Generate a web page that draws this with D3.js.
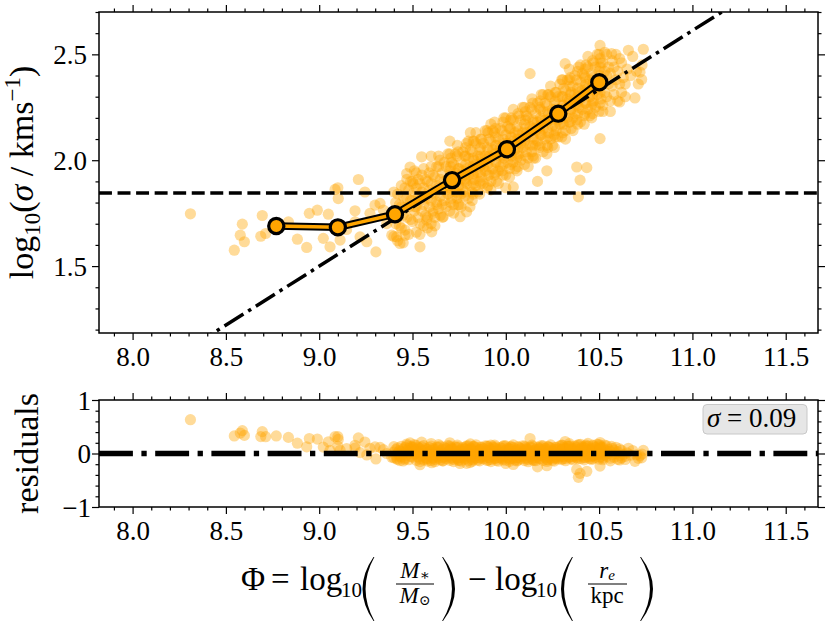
<!DOCTYPE html>
<html><head><meta charset="utf-8">
<script src="https://cdn.jsdelivr.net/npm/d3@7"></script>
<style>
body{margin:0;background:#fff}
svg{display:block}
text{font-family:"Liberation Serif","DejaVu Serif",serif;fill:#000}
</style>
</head><body>
<svg id="chart" width="830" height="623" font-family="Liberation Serif, DejaVu Serif, serif"></svg>
<script>
// ---- data: [Phi, log10 sigma] per galaxy ----
const galaxies = [
[8.31,1.747],[8.545,1.575],[8.577,1.646],[8.588,1.698],[8.599,1.615],[8.687,1.641],[8.695,1.739],[8.713,1.654],
[8.77,1.70],[8.835,1.709],[8.883,1.627],[8.933,1.588],[8.947,1.749],[8.99,1.764],[9.022,1.631],[9.049,1.745],
[9.058,1.591],[9.085,1.862],[9.10,1.87],[9.102,1.819],[9.10,1.69],[9.112,1.623],[9.147,1.673],[9.192,1.761],
[9.192,1.709],[9.21,1.909],[9.219,1.638],[9.245,1.85],[9.255,1.615],[9.272,1.749],[9.299,1.788],[9.304,1.567],
[9.326,1.796],[9.344,1.764],[9.362,1.701],[9.389,1.646],[9.415,1.638],[9.433,1.607],[9.46,1.646],[9.469,1.937],
[9.487,1.968],[9.504,1.89],[9.513,1.78],[9.54,1.591],[9.549,2.016],[9.576,1.717],[9.603,1.662],[9.63,1.803],
[9.647,2.0],[9.665,1.733],[9.719,1.874],[9.755,1.733],[9.61,1.749],[9.826,1.937],[9.808,1.78],[9.79,1.756],
[10.0,1.87],[10.04,1.874],[10.17,1.90],[10.22,1.95],[10.38,1.968],[10.434,1.965],[10.398,1.906],[10.389,1.827],
[10.505,2.102],[10.13,2.409],[10.318,2.456],[10.505,2.542],[10.567,2.503],[10.657,2.519],[10.737,2.524],[10.719,2.416],
[10.728,2.381],[10.692,2.294],[10.61,2.275],[9.60,2.02],[9.70,2.09],[9.81,2.13],[9.92,2.17],
[9.40,1.64],[9.41,1.70],[9.40,1.75],[9.41,1.80],[9.40,1.85],
[9.42,1.62],[9.43,1.69],[9.42,1.74],[9.43,1.79],[9.42,1.84],
[9.44,1.68],[9.45,1.74],[9.44,1.78],[9.45,1.83],[9.44,1.88],[9.45,1.61],
[9.46,1.67],[9.47,1.73],[9.46,1.78],[9.47,1.82],[9.46,1.87],[9.47,1.91],
[9.48,1.65],[9.49,1.72],[9.48,1.78],[9.49,1.81],[9.48,1.86],[9.49,1.90],
[9.50,1.71],[9.51,1.76],[9.50,1.81],[9.51,1.85],[9.50,1.90],[9.51,1.95],
[9.52,1.66],[9.53,1.73],[9.52,1.78],[9.53,1.83],[9.52,1.87],[9.53,1.91],[9.52,1.94],
[9.54,1.70],[9.55,1.76],[9.54,1.81],[9.55,1.85],[9.54,1.89],[9.55,1.93],[9.54,1.65],
[9.56,1.69],[9.57,1.74],[9.56,1.79],[9.57,1.83],[9.56,1.87],[9.57,1.91],[9.56,1.96],
[9.58,1.73],[9.59,1.78],[9.58,1.82],[9.59,1.86],[9.58,1.90],[9.59,1.94],[9.58,1.68],
[9.60,1.70],[9.61,1.76],[9.60,1.81],[9.61,1.85],[9.60,1.89],[9.61,1.93],[9.60,1.97],
[9.62,1.73],[9.63,1.79],[9.62,1.84],[9.63,1.88],[9.62,1.92],[9.63,1.97],[9.62,1.69],
[9.64,1.77],[9.65,1.83],[9.64,1.87],[9.65,1.91],[9.64,1.97],[9.65,1.74],[9.64,2.02],
[9.66,1.73],[9.67,1.81],[9.66,1.86],[9.67,1.90],[9.66,1.94],[9.67,1.99],[9.66,1.79],
[9.68,1.78],[9.69,1.84],[9.68,1.88],[9.69,1.91],[9.68,1.97],[9.69,2.03],[9.68,1.86],
[9.70,1.76],[9.71,1.82],[9.70,1.87],[9.71,1.91],[9.70,1.95],[9.71,1.99],[9.70,2.03],
[9.72,1.79],[9.73,1.85],[9.72,1.90],[9.73,1.94],[9.72,1.98],[9.73,2.03],[9.72,1.75],
[9.74,1.82],[9.75,1.88],[9.74,1.92],[9.75,1.96],[9.74,2.02],[9.75,1.79],[9.74,2.07],
[9.76,1.78],[9.77,1.86],[9.76,1.91],[9.77,1.95],[9.76,1.99],[9.77,2.04],[9.76,1.84],
[9.78,1.83],[9.79,1.89],[9.78,1.93],[9.79,1.96],[9.78,2.02],[9.79,2.08],[9.78,1.91],
[9.80,1.82],[9.81,1.88],[9.80,1.93],[9.81,1.97],[9.80,2.01],[9.81,2.05],[9.80,2.09],
[9.82,1.85],[9.83,1.91],[9.82,1.96],[9.83,2.00],[9.82,2.04],[9.83,2.09],[9.82,1.81],
[9.84,1.88],[9.85,1.94],[9.84,1.98],[9.85,2.02],[9.84,2.08],[9.85,1.85],[9.84,2.13],
[9.86,1.84],[9.87,1.92],[9.86,1.97],[9.87,2.01],[9.86,2.05],[9.87,2.10],[9.86,1.90],
[9.88,1.89],[9.89,1.95],[9.88,1.99],[9.89,2.02],[9.88,2.08],[9.89,2.14],[9.88,1.97],
[9.90,1.87],[9.91,1.93],[9.90,1.98],[9.91,2.02],[9.90,2.06],[9.91,2.10],[9.90,2.14],
[9.92,1.90],[9.93,1.96],[9.92,2.01],[9.93,2.05],[9.92,2.09],[9.93,2.14],[9.92,1.86],
[9.94,1.93],[9.95,1.99],[9.94,2.03],[9.95,2.07],[9.94,2.13],[9.95,1.90],[9.94,2.18],
[9.96,1.89],[9.97,1.97],[9.96,2.02],[9.97,2.06],[9.96,2.10],[9.97,2.15],[9.96,1.95],
[9.98,1.95],[9.99,2.01],[9.98,2.05],[9.99,2.08],[9.98,2.14],[9.99,2.20],[9.98,2.03],
[10.00,1.93],[10.01,1.99],[10.00,2.04],[10.01,2.08],[10.00,2.12],[10.01,2.16],[10.00,2.20],
[10.02,1.96],[10.03,2.02],[10.02,2.07],[10.03,2.11],[10.02,2.15],[10.03,2.20],[10.02,1.92],
[10.04,1.99],[10.05,2.05],[10.04,2.09],[10.05,2.13],[10.04,2.19],[10.05,1.96],[10.04,2.24],
[10.06,1.95],[10.07,2.03],[10.06,2.08],[10.07,2.12],[10.06,2.16],[10.07,2.21],[10.06,2.01],
[10.08,2.00],[10.09,2.06],[10.08,2.10],[10.09,2.13],[10.08,2.19],[10.09,2.25],[10.08,2.08],
[10.10,1.98],[10.11,2.04],[10.10,2.09],[10.11,2.13],[10.10,2.17],[10.11,2.21],[10.10,2.25],
[10.12,2.01],[10.13,2.07],[10.12,2.12],[10.13,2.16],[10.12,2.20],[10.13,2.25],[10.12,1.97],
[10.14,2.04],[10.15,2.10],[10.14,2.14],[10.15,2.18],[10.14,2.24],[10.15,2.01],[10.14,2.29],
[10.16,2.01],[10.17,2.09],[10.16,2.14],[10.17,2.18],[10.16,2.22],[10.17,2.27],[10.16,2.07],
[10.18,2.06],[10.19,2.12],[10.18,2.16],[10.19,2.19],[10.18,2.25],[10.19,2.31],[10.18,2.14],
[10.20,2.04],[10.21,2.10],[10.20,2.15],[10.21,2.19],[10.20,2.23],[10.21,2.27],[10.20,2.31],
[10.22,2.07],[10.23,2.13],[10.22,2.18],[10.23,2.22],[10.22,2.26],[10.23,2.31],[10.22,2.03],
[10.24,2.10],[10.25,2.16],[10.24,2.20],[10.25,2.24],[10.24,2.30],[10.25,2.07],[10.24,2.35],
[10.26,2.06],[10.27,2.14],[10.26,2.19],[10.27,2.23],[10.26,2.27],[10.27,2.32],[10.26,2.12],
[10.28,2.11],[10.29,2.17],[10.28,2.21],[10.29,2.24],[10.28,2.30],[10.29,2.36],[10.28,2.19],
[10.30,2.11],[10.31,2.17],[10.30,2.22],[10.31,2.26],[10.30,2.30],[10.31,2.34],[10.30,2.38],
[10.32,2.14],[10.33,2.20],[10.32,2.25],[10.33,2.29],[10.32,2.33],[10.33,2.38],[10.32,2.10],
[10.34,2.18],[10.35,2.24],[10.34,2.28],[10.35,2.32],[10.34,2.38],[10.35,2.15],[10.34,2.43],
[10.36,2.14],[10.37,2.22],[10.36,2.27],[10.37,2.31],[10.36,2.35],[10.37,2.40],[10.36,2.20],
[10.38,2.19],[10.39,2.25],[10.38,2.29],[10.39,2.32],[10.38,2.38],[10.39,2.44],[10.38,2.27],
[10.40,2.18],[10.41,2.24],[10.40,2.29],[10.41,2.33],[10.40,2.37],[10.41,2.41],[10.40,2.45],
[10.42,2.21],[10.43,2.27],[10.42,2.32],[10.43,2.36],[10.42,2.40],[10.43,2.45],[10.42,2.17],
[10.44,2.24],[10.45,2.30],[10.44,2.34],[10.45,2.38],[10.44,2.44],[10.45,2.21],[10.44,2.49],
[10.46,2.20],[10.47,2.28],[10.46,2.33],[10.47,2.37],[10.46,2.41],[10.47,2.46],[10.46,2.26],
[10.48,2.25],[10.49,2.31],[10.48,2.35],[10.49,2.38],[10.48,2.44],[10.49,2.50],[10.48,2.33],
[10.50,2.23],[10.51,2.29],[10.50,2.34],[10.51,2.38],[10.50,2.42],[10.51,2.46],[10.50,2.50],
[10.52,2.26],[10.53,2.32],[10.52,2.38],[10.53,2.42],[10.52,2.46],[10.53,2.51],[10.52,2.23],
[10.54,2.30],[10.55,2.36],[10.54,2.40],[10.55,2.44],[10.54,2.50],
[10.56,2.28],[10.57,2.35],[10.56,2.41],[10.57,2.47],[10.56,2.23],
[10.58,2.31],[10.59,2.38],[10.58,2.44],[10.59,2.50],
[10.60,2.28],[10.61,2.36],[10.60,2.42],[10.61,2.48],
[10.62,2.32],[10.63,2.39],[10.62,2.46],
[10.64,2.36],[10.65,2.43],[10.64,2.30],
[10.67,2.40],[10.68,2.49],[10.70,2.42],[10.71,2.36],[10.73,2.45],
[9.705,1.80],[9.705,1.85],[9.705,1.89],[9.705,1.93],[9.705,1.97],[9.705,2.01],
[9.745,1.79],[9.745,1.84],[9.745,1.88],[9.745,1.92],[9.745,1.96],[9.745,2.04],
[9.785,1.85],[9.785,1.90],[9.785,1.94],[9.785,1.98],[9.785,2.02],[9.785,2.06],
[9.825,1.84],[9.825,1.89],[9.825,1.93],[9.825,1.97],[9.825,2.01],[9.825,2.09],
[9.865,1.89],[9.865,1.94],[9.865,1.98],[9.865,2.02],[9.865,2.06],[9.865,2.10],
[9.905,1.88],[9.905,1.93],[9.905,1.97],[9.905,2.01],[9.905,2.05],[9.905,2.13],
[9.945,1.94],[9.945,1.99],[9.945,2.03],[9.945,2.07],[9.945,2.11],[9.945,2.15],
[9.985,1.93],[9.985,1.98],[9.985,2.02],[9.985,2.06],[9.985,2.10],[9.985,2.18],
[10.025,1.98],[10.025,2.03],[10.025,2.07],[10.025,2.11],[10.025,2.15],[10.025,2.19],
[10.065,1.97],[10.065,2.02],[10.065,2.06],[10.065,2.10],[10.065,2.14],[10.065,2.22],
[10.105,2.02],[10.105,2.07],[10.105,2.11],[10.105,2.15],[10.105,2.19],[10.105,2.23],
[10.145,2.02],[10.145,2.07],[10.145,2.11],[10.145,2.15],[10.145,2.19],[10.145,2.27],
[10.185,2.07],[10.185,2.12],[10.185,2.16],[10.185,2.20],[10.185,2.24],[10.185,2.28],
[10.225,2.06],[10.225,2.11],[10.225,2.15],[10.225,2.19],[10.225,2.23],[10.225,2.31],
[10.265,2.11],[10.265,2.16],[10.265,2.20],[10.265,2.24],[10.265,2.28],[10.265,2.32],
[10.305,2.13],[10.305,2.18],[10.305,2.22],[10.305,2.26],[10.305,2.30],[10.305,2.38],
[10.345,2.18],[10.345,2.23],[10.345,2.27],[10.345,2.31],[10.345,2.35],[10.345,2.39],
[10.385,2.17],[10.385,2.22],[10.385,2.26],[10.385,2.30],[10.385,2.34],[10.385,2.42],
[10.425,2.22],[10.425,2.27],[10.425,2.31],[10.425,2.35],[10.425,2.39],[10.425,2.43],
[10.465,2.22],[10.465,2.27],[10.465,2.31],[10.465,2.35],[10.465,2.39],[10.465,2.47],
[10.505,2.27],[10.505,2.32],[10.505,2.36],[10.505,2.40],[10.505,2.44],[10.505,2.48]
];
// binned medians
const binPhi = [8.77, 9.10, 9.406, 9.712, 10.006, 10.281, 10.501];
const binLogSigma = [1.689, 1.683, 1.745, 1.906, 2.052, 2.220, 2.368];
// linear fit and threshold
const fitSlope = 0.5564;
const fitIntercept = -3.508;
const logSigmaCut = 1.845;
const residualSigma = "0.09";
// tick labels
const xTicks = [8.0, 8.5, 9.0, 9.5, 10.0, 10.5, 11.0, 11.5];
const yTicksTop = [1.5, 2.0, 2.5];
const yTicksBottom = [-1, 0, 1];

// ---- layout ----
const FONT = "Liberation Serif, DejaVu Serif, serif";
const L = 99, R = 818;
const topP = {t: 12, b: 333}, botP = {t: 400, b: 507};
const ORANGE = "#ffa500";
const ALPHA = 0.4;
const x = d3.scaleLinear().domain([7.82, 11.673]).range([L, R]);
const yT = d3.scaleLinear().domain([1.184, 2.7]).range([topP.b, topP.t]);
const yB = d3.scaleLinear().domain([-1, 1]).range([botP.b, botP.t]);
const fit = p => fitSlope * p + fitIntercept;
const svg = d3.select("#chart");

const defs = svg.append("defs");
defs.append("clipPath").attr("id","clipT").append("rect").attr("x",L).attr("y",topP.t).attr("width",R-L).attr("height",topP.b-topP.t);
defs.append("clipPath").attr("id","clipB").append("rect").attr("x",L).attr("y",botP.t).attr("width",R-L).attr("height",botP.b-botP.t);

// ---- top panel ----
const gT = svg.append("g").attr("clip-path","url(#clipT)");
gT.append("g").selectAll("circle").data(galaxies).join("circle")
  .attr("cx", d => x(d[0])).attr("cy", d => yT(d[1])).attr("r", 5.6)
  .attr("fill", ORANGE).attr("fill-opacity", ALPHA);
gT.append("line").attr("x1", x(x.domain()[0])).attr("x2", x(x.domain()[1]))
  .attr("y1", yT(logSigmaCut)).attr("y2", yT(logSigmaCut))
  .attr("stroke","#000").attr("stroke-width",3.5).attr("stroke-dasharray","12.95,5.6");
const fitX = x.domain();
gT.append("line").attr("x1", x(fitX[0])).attr("y1", yT(fit(fitX[0])))
  .attr("x2", x(fitX[1])).attr("y2", yT(fit(fitX[1])))
  .attr("stroke","#000").attr("stroke-width",3.5).attr("stroke-dasharray","22.4,5.6,3.5,5.6");
const bins = binPhi.map((p,i) => [p, binLogSigma[i]]);
const binLine = d3.line().x(d => x(d[0])).y(d => yT(d[1]));
gT.append("path").attr("d", binLine(bins)).attr("fill","none").attr("stroke","#000").attr("stroke-width",7.5).attr("stroke-linejoin","round");
gT.append("path").attr("d", binLine(bins)).attr("fill","none").attr("stroke",ORANGE).attr("stroke-width",3.5).attr("stroke-linejoin","round");
gT.append("g").selectAll("circle").data(bins).join("circle")
  .attr("cx", d => x(d[0])).attr("cy", d => yT(d[1])).attr("r", 7.6)
  .attr("fill", ORANGE).attr("stroke","#000").attr("stroke-width",3.2);

// ---- bottom panel ----
const gB = svg.append("g").attr("clip-path","url(#clipB)");
gB.append("g").selectAll("circle").data(galaxies).join("circle")
  .attr("cx", d => x(d[0])).attr("cy", d => yB(d[1] - fit(d[0]))).attr("r", 5.6)
  .attr("fill", ORANGE).attr("fill-opacity", ALPHA);
gB.append("line").attr("x1", L).attr("x2", R).attr("y1", yB(0)).attr("y2", yB(0))
  .attr("stroke","#000").attr("stroke-width",5.3).attr("stroke-dasharray","33.9,8.5,5.3,8.5");

// ---- axes ----
const xMinor = d3.range(79, 117).map(v => v / 10).filter(v => !xTicks.some(t => Math.abs(t - v) < 1e-6));
function styleAxis(g){
  g.select(".domain").remove();
  g.selectAll(".tick line").attr("stroke","#000").attr("stroke-width",1.2);
  g.attr("font-family",FONT).attr("font-size",null);
}
function frame(P, y, yMajor, yMinor, yFmt, yLabelX){
  const fmtX = d3.format(".1f");
  const gb = svg.append("g").attr("transform",`translate(0,${P.b})`)
    .call(d3.axisBottom(x).tickValues(xTicks).tickSize(7).tickSizeOuter(0).tickFormat(fmtX));
  styleAxis(gb);
  gb.selectAll("text").attr("y",33).attr("dy",null).attr("font-size",27).attr("font-family",FONT);
  svg.append("g").attr("transform",`translate(0,${P.b})`)
    .call(d3.axisBottom(x).tickValues(xMinor).tickSize(3.5).tickSizeOuter(0).tickFormat("")).call(styleAxis);
  svg.append("g").attr("transform",`translate(0,${P.t})`)
    .call(d3.axisTop(x).tickValues(xTicks).tickSize(7).tickSizeOuter(0).tickFormat("")).call(styleAxis);
  svg.append("g").attr("transform",`translate(0,${P.t})`)
    .call(d3.axisTop(x).tickValues(xMinor).tickSize(3.5).tickSizeOuter(0).tickFormat("")).call(styleAxis);
  const gl = svg.append("g").attr("transform",`translate(${L},0)`)
    .call(d3.axisLeft(y).tickValues(yMajor).tickSize(7).tickSizeOuter(0).tickFormat(yFmt));
  styleAxis(gl);
  gl.selectAll("text").attr("x",yLabelX).attr("dy","0.34em").attr("font-size",27).attr("font-family",FONT);
  svg.append("g").attr("transform",`translate(${L},0)`)
    .call(d3.axisLeft(y).tickValues(yMinor).tickSize(3.5).tickSizeOuter(0).tickFormat("")).call(styleAxis);
  svg.append("g").attr("transform",`translate(${R},0)`)
    .call(d3.axisRight(y).tickValues(yMajor).tickSize(7).tickSizeOuter(0).tickFormat("")).call(styleAxis);
  svg.append("g").attr("transform",`translate(${R},0)`)
    .call(d3.axisRight(y).tickValues(yMinor).tickSize(3.5).tickSizeOuter(0).tickFormat("")).call(styleAxis);
  svg.append("rect").attr("x",L).attr("y",P.t).attr("width",R-L).attr("height",P.b-P.t)
    .attr("fill","none").attr("stroke","#000").attr("stroke-width",1.5);
}
const yMinorTop = d3.range(12, 28).map(v => v / 10).filter(v => !yTicksTop.some(t => Math.abs(t - v) < 1e-6));
const yMinorBot = [-0.8,-0.6,-0.4,-0.2,0.2,0.4,0.6,0.8];
frame(topP, yT, yTicksTop, yMinorTop, d3.format(".1f"), -12);
frame(botP, yB, yTicksBottom, yMinorBot, d3.format("d"), -8);

// ---- sigma box ----
svg.append("rect").attr("x",703).attr("y",404.5).attr("width",104).attr("height",29.5).attr("rx",4)
  .attr("fill","#e6e6e6").attr("stroke","#c8c8c8").attr("stroke-width",1);
const st = svg.append("text").attr("x",707).attr("y",427).attr("font-size",27).attr("font-family",FONT);
st.append("tspan").attr("font-style","italic").text("σ");
st.append("tspan").text(" = " + residualSigma);

// ---- y labels ----
const yl = svg.append("text").attr("transform",`translate(33,${(topP.t+topP.b)/2}) rotate(-90)`)
  .attr("text-anchor","middle").attr("font-size",34).attr("font-family",FONT);
yl.append("tspan").text("log");
yl.append("tspan").attr("font-size",23).attr("dy",7).text("10");
yl.append("tspan").attr("dy",-7).text("(");
yl.append("tspan").attr("font-style","italic").text("σ");
yl.append("tspan").text(" / kms");
yl.append("tspan").attr("font-size",23).attr("dy",-13).text("−1");
yl.append("tspan").attr("dy",13).text(")");
svg.append("text").attr("transform",`translate(38,${(botP.t+botP.b)/2}) rotate(-90)`)
  .attr("text-anchor","middle").attr("font-size",34).attr("font-family",FONT).text("residuals");

// ---- x label ----
const xl = svg.append("g").attr("font-family",FONT);
const put = (t, xx, yy, size, italic, anchor) => xl.append("text").attr("x",xx).attr("y",yy)
  .attr("font-size",size).attr("font-style",italic?"italic":null).attr("text-anchor",anchor||"start").text(t);
put("Φ",241,590,33); put("=",271,590,33); put("log",300,590,33); put("10",341,597,21);
put("−",468,590,33); put("log",495,590,33); put("10",536,597,21);
function paren(endX, bulge, open){
  const top=557, bot=621, mid=(top+bot)/2, s = open ? -1 : 1;
  const xo = endX + s*2*bulge, xi = xo - s*5.2, e2 = endX - s*0.9;
  xl.append("path").attr("d",`M${endX},${top} Q${xo},${mid} ${endX},${bot} L${e2},${bot} Q${xi},${mid} ${e2},${top} Z`).attr("fill","#000");
}
paren(373.5, 11, true); paren(443, 12, false); paren(572, 11, true); paren(641, 12, false);
function frac(cx, x0, x1, num, den){
  xl.append("line").attr("x1",x0).attr("x2",x1).attr("y1",584).attr("y2",584).attr("stroke","#000").attr("stroke-width",1.1);
  const n = xl.append("text").attr("x",cx).attr("y",578).attr("text-anchor","middle").attr("font-size",23);
  num(n);
  const d = xl.append("text").attr("x",cx).attr("y",603).attr("text-anchor","middle").attr("font-size",23);
  den(d);
}
frac(415, 396, 434,
  n => { n.append("tspan").attr("font-style","italic").text("M"); n.append("tspan").attr("font-size",15).attr("dy",2).text("∗"); },
  d => { d.append("tspan").attr("font-style","italic").text("M"); d.append("tspan").attr("font-size",14).attr("dy",2).text("⊙"); });
frac(607, 588, 627,
  n => { n.append("tspan").attr("font-style","italic").text("r"); n.append("tspan").attr("font-style","italic").attr("font-size",15).attr("dy",2).text("e"); },
  d => { d.text("kpc"); });
</script>
</body></html>
